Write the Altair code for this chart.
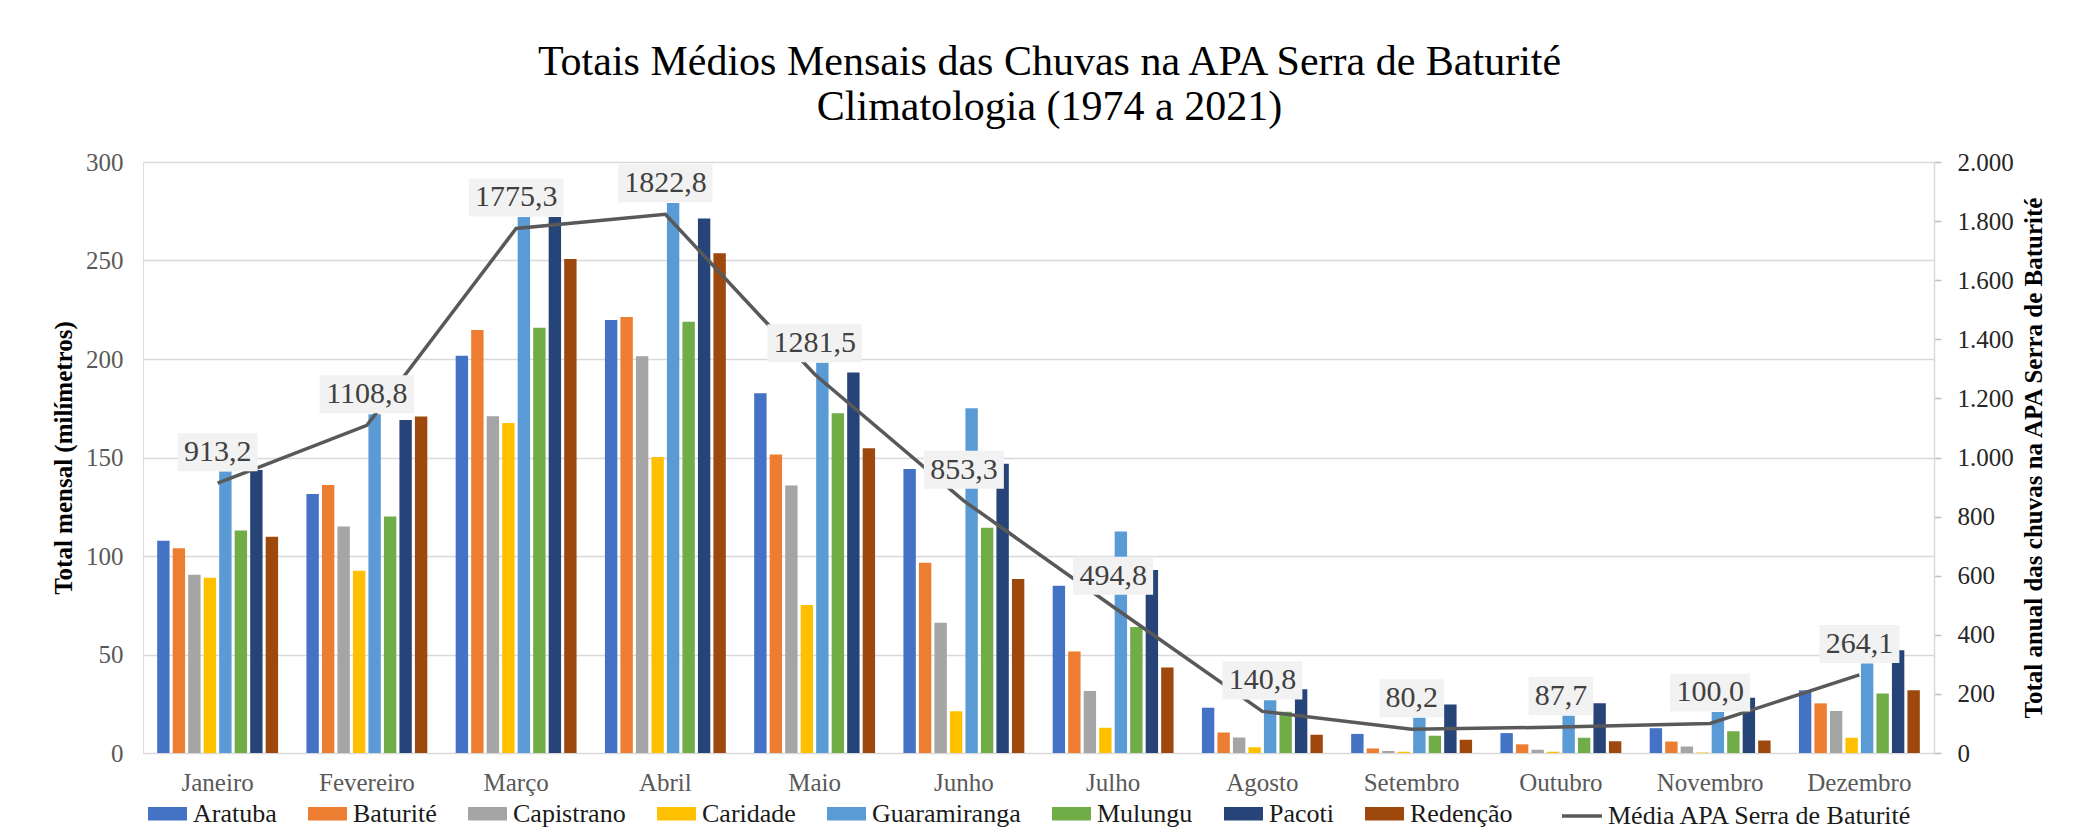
import altair as alt
import pandas as pd

FONT = "Liberation Serif"

months = ["Janeiro", "Fevereiro", "Março", "Abril", "Maio", "Junho", "Julho",
          "Agosto", "Setembro", "Outubro", "Novembro", "Dezembro"]
cities = ["Aratuba", "Baturité", "Capistrano", "Caridade", "Guaramiranga",
          "Mulungu", "Pacoti", "Redenção"]
colors = ["#4472C4", "#ED7D31", "#A5A5A5", "#FFC000", "#5B9BD5", "#70AD47",
          "#264478", "#9E480E"]

aratuba = [107.8, 131.5, 201.7, 219.8, 182.6, 144.1, 84.9, 23.0, 9.7, 10.1, 12.6, 31.8]
baturite = [103.9, 136.0, 214.7, 221.3, 151.5, 96.6, 51.5, 10.4, 2.3, 4.4, 5.8, 25.2]
capistrano = [90.5, 115.0, 171.0, 201.4, 135.8, 66.1, 31.5, 7.9, 1.0, 1.6, 3.3, 21.3]
caridade = [89.0, 92.5, 167.5, 150.2, 75.1, 21.2, 12.8, 2.9, 0.6, 0.6, 0.2, 7.8]
guaramiranga = [142.9, 172.0, 272.1, 279.2, 198.1, 175.0, 112.4, 26.8, 17.9, 18.9, 20.8, 45.4]
mulungu = [112.9, 120.0, 215.9, 218.9, 172.5, 114.4, 64.0, 21.0, 8.7, 7.7, 11.1, 30.2]
pacoti = [143.7, 169.0, 272.1, 271.3, 193.2, 146.8, 92.9, 32.3, 24.6, 25.3, 28.0, 52.1]
redencao = [109.8, 170.8, 250.8, 253.7, 154.7, 88.3, 43.4, 9.3, 6.7, 6.0, 6.4, 31.8]

media = [913.2, 1108.8, 1775.3, 1822.8, 1281.5, 853.3, 494.8, 140.8, 80.2, 87.7, 100.0, 264.1]
media_name = "Média APA Serra de  Baturité"

series = [aratuba, baturite, capistrano, caridade, guaramiranga, mulungu, pacoti, redencao]

rows = []
for city, vals in zip(cities, series):
    for m, v in zip(months, vals):
        rows.append({"mes": m, "cidade": city, "valor": v})
bars_df = pd.DataFrame(rows)

line_df = pd.DataFrame({
    "mes": months,
    "media": media,
    "serie": [media_name] * len(months),
})
line_df["rotulo"] = [f"{v:.1f}".replace(".", ",") for v in media]
line_df["w"] = [str(len(s)) for s in line_df["rotulo"]]

x_enc = alt.X(
    "mes:N", sort=months,
    scale=alt.Scale(paddingInner=0.19, paddingOuter=0.095),
    axis=alt.Axis(title=None, labelAngle=0, ticks=False, domain=False,
                  labelFont=FONT, labelFontSize=25, labelColor="#595959",
                  labelPadding=17),
)

bars = alt.Chart(bars_df).mark_bar().encode(
    x=x_enc,
    xOffset=alt.XOffset("cidade:N", sort=cities, scale=alt.Scale(paddingInner=0.2)),
    y=alt.Y("valor:Q", scale=alt.Scale(domain=[0, 300], nice=False),
            axis=alt.Axis(values=[0, 50, 100, 150, 200, 250, 300],
                          title="Total mensal (milímetros)",
                          grid=True, gridColor="#d9d9d9", gridWidth=1.5,
                          domain=False, ticks=False,
                          labelFont=FONT, labelFontSize=25, labelColor="#595959",
                          labelPadding=20,
                          titleFont=FONT, titleFontSize=25, titleFontWeight="bold",
                          titleColor="#000000", titlePadding=9)),
    color=alt.Color("cidade:N", sort=cities,
                    scale=alt.Scale(domain=cities, range=colors),
                    legend=alt.Legend(title=None, orient="none", legendX=5, legendY=632,
                                      direction="horizontal", columns=8,
                                      symbolType="M-1,-0.35H1V0.35H-1Z",
                                      symbolSize=1521, symbolStrokeWidth=0,
                                      labelFont=FONT, labelFontSize=26,
                                      labelColor="#1a1a1a", columnPadding=31,
                                      labelOffset=6, labelLimit=400)),
)

y_right = alt.Y("media:Q", scale=alt.Scale(domain=[0, 2000], nice=False),
                axis=alt.Axis(orient="right", values=list(range(0, 2001, 200)),
                              title="Total anual das chuvas na APA Serra de Baturité",
                              grid=False, domain=True, domainColor="#d9d9d9",
                              domainWidth=1.5, ticks=True, tickColor="#bfbfbf",
                              tickSize=7, tickWidth=1.5,
                              labelExpr="replace(format(datum.value, ','), ',', '.')",
                              labelFont=FONT, labelFontSize=25, labelColor="#262626",
                              labelPadding=16,
                              titleFont=FONT, titleFontSize=25, titleFontWeight="bold",
                              titleColor="#000000", titleAngle=270,
                              titleBaseline="top", titlePadding=8))

line = alt.Chart(line_df).mark_line(strokeWidth=3.5).encode(
    x=x_enc,
    y=y_right,
    stroke=alt.Stroke("serie:N", scale=alt.Scale(domain=[media_name], range=["#595959"]),
                      legend=alt.Legend(title=None, orient="none", legendX=1417,
                                        legendY=632, symbolType="stroke",
                                        symbolSize=1600, symbolStrokeWidth=3.5,
                                        labelFont=FONT, labelFontSize=26,
                                        labelColor="#1a1a1a", labelOffset=4,
                                        labelLimit=600)),
)

box_paths = ["M-0.645,-1H0.645V-0.24H-0.645Z",
             "M-0.8,-1H0.8V-0.24H-0.8Z",
             "M-0.945,-1H0.945V-0.24H-0.945Z"]

boxes = alt.Chart(line_df).mark_point(filled=True, fill="#f2f2f2", opacity=1,
                                      strokeWidth=0, size=10000).encode(
    x=x_enc,
    y=y_right,
    shape=alt.Shape("w:N", scale=alt.Scale(domain=["4", "5", "6"], range=box_paths),
                    legend=None),
)

labels = alt.Chart(line_df).mark_text(dy=-31, fontSize=30, font=FONT,
                                      color="#404040", baseline="middle").encode(
    x=x_enc,
    y=y_right,
    text="rotulo:N",
)

right = alt.layer(line, boxes, labels)

chart = alt.layer(bars, right).resolve_scale(
    y="independent", color="independent"
).properties(
    width=1791,
    height=591,
    autosize=alt.AutoSizeParams(type="none"),
    padding={"left": 135, "top": 154, "right": 129, "bottom": 79},
    title=alt.TitleParams(
        text=["Totais Médios Mensais das Chuvas na APA Serra de Baturité",
              "Climatologia (1974 a 2021)"],
        font=FONT, fontSize=42, fontWeight="normal", color="#000000",
        lineHeight=45, anchor="middle", offset=21, dx=11,
    ),
).configure_view(stroke=None).configure(font=FONT, background="white")

chart.save("out.html", embed_options={"renderer": "svg", "actions": False})
